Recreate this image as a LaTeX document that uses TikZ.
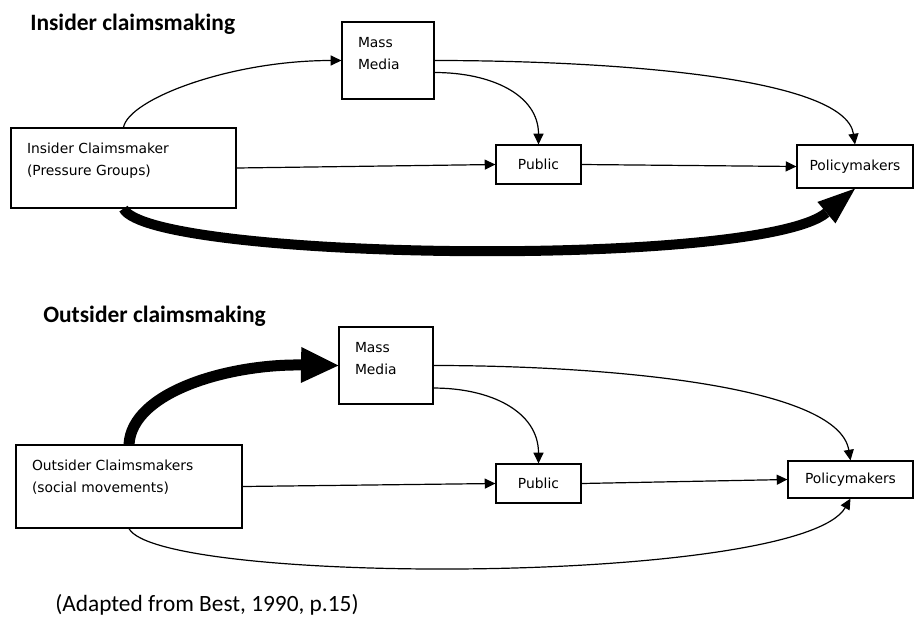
\documentclass[tikz,border=0pt]{standalone}
\usepackage{fontspec}
\setmainfont{Carlito}
\newfontfamily\boxfont{DejaVu Sans}
\usepackage{tikz}
\usetikzlibrary{arrows.meta,positioning}

\newcommand{\boxlines}[3]{\parbox[t][#2][t]{#1}{\strut #3}}

\begin{document}
\begin{tikzpicture}[x=0.75pt, y=-0.75pt,
        box/.style={draw, line width=0.9pt, font=\boxfont\fontsize{10.4}{16.5}\selectfont},
        claim/.style={box, inner xsep=12pt, inner ysep=7.5pt},
        actor/.style={box, inner sep=0pt, minimum height=29.25pt},
        heading/.style={font=\bfseries\fontsize{17.6}{20}\selectfont, inner sep=0pt, anchor=base west},
        link/.style={line width=0.9pt, -{Triangle[length=8pt,width=7.5pt]}},
        heavylink/.style={line width=7.5pt, -{Triangle[length=28pt,width=#1,line width=0pt]}}]
        \useasboundingbox (0,0) rectangle (914,622);
        \node[heading] (T1) at (30,30) {Insider claimsmaking};
        \node[claim] (IC) at (123.5,168) {\boxlines{144.75pt}{45pt}{Insider Claimsmaker\\(Pressure Groups)}};
        \node[claim] (MM1) at (388,60.5) {\boxlines{45pt}{42.75pt}{Mass\\Media}};
        \node[actor, minimum width=63.75pt] (PU1) at (538.5,164.5) {Public};
        \node[actor, minimum width=87pt, minimum height=32.25pt] (PO1) at (855,166.5) {Policymakers};
        \draw[link] (IC.north) .. controls +(5,-28) and +(-112,0) .. (MM1.west);
        \draw[link] (MM1.east) .. controls +(166,0) and +(-10,-69) .. (PO1.north);
        \draw[link] ([yshift=-9pt]MM1.east) .. controls +(56,0) and +(0,-50) .. (PU1.north);
        \draw[link] (IC.east) -- (PU1.west);
        \draw[link] (PU1.east) -- (PO1.west);
        \draw[heavylink=21pt] (IC.south) .. controls +(26.5,52) and +(-95,80) .. (PO1.south);

        \node[heading] (T2) at (43,322) {Outsider claimsmaking};
        \node[claim] (OC) at (129,486.5) {\boxlines{145.5pt}{47.25pt}{Outsider Claimsmakers\\(social movements)}};
        \node[claim] (MM2) at (386,365.5) {\boxlines{46.5pt}{42.75pt}{Mass\\Media}};
        \node[actor, minimum width=63.75pt] (PU2) at (538.5,483.5) {Public};
        \node[actor, minimum width=93.75pt, minimum height=27.75pt] (PO2) at (850.5,479.5) {Policymakers};
        \draw[heavylink=27pt, line width=8.25pt] (OC.north) .. controls +(3,-53) and +(-109,-1.5) .. (MM2.west);
        \draw[link] (MM2.east) .. controls +(167,0) and +(-12.5,-76) .. (PO2.north);
        \draw[link] ([yshift=-16.9pt]MM2.east) .. controls +(57,0) and +(0,-52) .. (PU2.north);
        \draw[link] (OC.east) -- (PU2.west);
        \draw[link] (PU2.east) -- (PO2.west);
        \draw[link] (OC.south) .. controls +(31,57) and +(-50.5,87) .. (PO2.south);

        \node[inner sep=0pt, anchor=base west, font=\fontsize{17.5}{20}\selectfont] (SRC) at (55,611) {(Adapted from Best, 1990, p.15)};
\end{tikzpicture}
\end{document}
